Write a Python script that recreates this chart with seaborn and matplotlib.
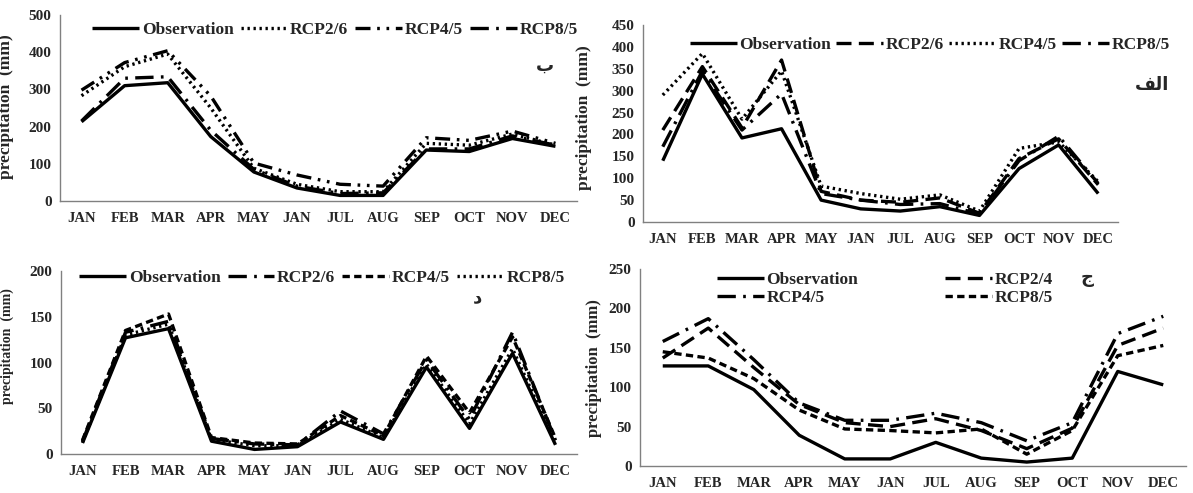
import numpy as np
import pandas as pd
import matplotlib
matplotlib.use("Agg")
import matplotlib.pyplot as plt
import seaborn as sns

sns.set_style("white")
plt.rcParams['font.family'] = ['Liberation Serif', 'DejaVu Sans']
plt.rcParams['font.weight'] = 'bold'

months = ["JAN", "FEB", "MAR", "APR", "MAY", "JAN", "JUL", "AUG", "SEP", "OCT", "NOV", "DEC"]

# Panel ب (top-left)
b_names = ["Observation", "RCP2/6", "RCP4/5", "RCP8/5"]
b_obs = [213, 310, 318, 173, 78, 35, 15, 15, 137, 133, 168, 147]
b_rcp26 = [283, 361, 395, 250, 88, 45, 25, 25, 155, 150, 180, 150]
b_rcp45 = [298, 372, 404, 282, 102, 70, 45, 40, 170, 163, 188, 155]
b_rcp85 = [215, 330, 334, 190, 85, 40, 20, 22, 140, 140, 175, 150]

# Panel الف (top-right)
a_names = ["Observation", "RCP2/6", "RCP4/5", "RCP8/5"]
a_obs = [140, 338, 192, 213, 50, 30, 25, 35, 15, 122, 176, 65]
a_rcp26 = [210, 355, 215, 370, 70, 50, 45, 55, 20, 145, 190, 85]
a_rcp45 = [290, 385, 235, 345, 82, 65, 52, 62, 25, 168, 183, 92]
a_rcp85 = [172, 345, 210, 293, 65, 50, 40, 42, 18, 140, 196, 88]

# Panel د (bottom-left)
d_names = ["Observation", "RCP2/6", "RCP4/5", "RCP8/5"]
d_obs = [12, 127, 137, 14, 5, 8, 35, 16, 95, 28, 110, 10]
d_rcp26 = [14, 133, 145, 17, 11, 10, 47, 22, 103, 38, 133, 15]
d_rcp45 = [15, 135, 153, 18, 12, 11, 42, 20, 107, 45, 128, 17]
d_rcp85 = [13, 130, 142, 16, 9, 9, 38, 18, 98, 33, 115, 12]

# Panel ج (bottom-right)
j_names = ["Observation", "RCP2/4", "RCP4/5", "RCP8/5"]
j_obs = [127, 127, 97, 39, 9, 9, 30, 10, 5, 10, 120, 103]
j_rcp24 = [137, 175, 125, 78, 55, 50, 60, 45, 22, 48, 153, 175]
j_rcp45 = [158, 187, 135, 80, 58, 58, 67, 55, 32, 55, 168, 190]
j_rcp85 = [145, 137, 111, 71, 47, 45, 42, 47, 15, 45, 140, 153]

SOLID = (0, ())
DOT = (0, (0.7, 1.1))
LDASH = (0, (4.5, 2.2))
DASH = (0, (2.2, 1.3))
LDASHDOT = (0, (5.5, 2.2, 0.8, 2.2))
LDASHDOTDOT = (0, (4.5, 2.0, 0.8, 2.0, 0.8, 2.0))

fig = plt.figure(figsize=(11.93, 4.93), dpi=100)
W, H = 1193.0, 493.0

def px_axes(l, r, top, bot):
    return fig.add_axes([l / W, 1 - bot / H, (r - l) / W, (bot - top) / H])

panels = [
    dict(rect=(60, 577, 15, 201), names=b_names, series=[b_obs, b_rcp26, b_rcp45, b_rcp85],
         styles=[SOLID, DOT, LDASHDOTDOT, LDASHDOT], ylim=(0, 500), step=100,
         leg=dict(center=(335, 30), ncol=4, hl=2.7, cs=0.4, order=[0, 1, 2, 3]), lab=("ب", 545, 66),
         ylab=(14, 107, 12.5)),
    dict(rect=(643, 1118, 25, 222), names=a_names, series=[a_obs, a_rcp26, a_rcp45, a_rcp85],
         styles=[SOLID, LDASH, DOT, LDASHDOT], ylim=(0, 450), step=50,
         leg=dict(center=(930, 45), ncol=4, hl=2.7, cs=0.3, order=[0, 1, 2, 3]),
         lab=("\ufed2\ufedf\u0627", 1152, 85),
         ylab=(592, 118, 12.5)),
    dict(rect=(61, 577, 271, 454), names=d_names, series=[d_obs, d_rcp26, d_rcp45, d_rcp85],
         styles=[SOLID, LDASHDOT, DASH, DOT], ylim=(0, 200), step=50,
         leg=dict(center=(322, 278), ncol=4, hl=2.7, cs=0.4, order=[0, 1, 2, 3]), lab=("د", 478, 297),
         ylab=(14, 346, 10.0)),
    dict(rect=(640, 1186, 269, 466), names=j_names, series=[j_obs, j_rcp24, j_rcp45, j_rcp85],
         styles=[SOLID, LDASH, LDASHDOT, DASH], ylim=(0, 250), step=50,
         leg=dict(center=(885, 289), ncol=2, hl=2.7, cs=5.0, order=[0, 2, 1, 3]), lab=("ج", 1087, 278),
         ylab=(602, 368, 12.0)),
]

x = np.arange(12)
for p in panels:
    ax = px_axes(*p["rect"])
    for name, vals, ls in zip(p["names"], p["series"], p["styles"]):
        df = pd.DataFrame({"month": x, "value": vals})
        sns.lineplot(data=df, x="month", y="value", ax=ax, color="black", linewidth=2.4,
                     linestyle=ls, label=name, legend=False)
    ax.set_xlim(-0.5, 11.5)
    ax.set_ylim(*p["ylim"])
    ax.set_yticks(np.arange(p["ylim"][0], p["ylim"][1] + 1, p["step"]))
    ax.set_xticks(np.arange(-0.5, 12, 1))
    ax.set_xticklabels([])
    ax.set_xticks(x, minor=True)
    ax.set_xticklabels(months, minor=True)
    ax.tick_params(axis="x", which="major", length=5, width=0.8, color="#808080", direction="out")
    ax.tick_params(axis="x", which="minor", length=0, labelsize=10.5, pad=8)
    ax.tick_params(axis="y", which="major", length=4, width=0.8, color="#808080", direction="out",
                   labelsize=11, pad=2)
    for t in ax.get_xticklabels(minor=True) + ax.get_yticklabels():
        t.set_fontweight("bold")
    for s in ["top", "right"]:
        ax.spines[s].set_visible(False)
    for s in ["left", "bottom"]:
        ax.spines[s].set_color("#808080")
        ax.spines[s].set_linewidth(1.0)
    ax.set_xlabel("")
    ax.set_ylabel("precipitation  (mm)", fontsize=p["ylab"][2], fontweight="bold")
    ax.yaxis.set_label_coords(p["ylab"][0] / W, 1 - p["ylab"][1] / H, transform=fig.transFigure)
    handles, labels = ax.get_legend_handles_labels()
    lg = p["leg"]
    handles = [handles[i] for i in lg["order"]]
    labels = [labels[i] for i in lg["order"]]
    ax.legend(handles, labels, loc="center",
              bbox_to_anchor=(lg["center"][0] / W, 1 - lg["center"][1] / H),
              bbox_transform=fig.transFigure, ncol=lg["ncol"], frameon=False,
              handlelength=lg["hl"], handletextpad=0.15, columnspacing=lg["cs"],
              labelspacing=0.1, prop=dict(family="Liberation Serif", weight="bold", size=12.5))
    lab, lx, ly = p["lab"]
    fig.text(lx / W, 1 - ly / H, lab, ha="center", va="center", fontsize=13,
             family=["DejaVu Sans"], fontweight="bold")

fig.savefig("out.png", dpi=100)
